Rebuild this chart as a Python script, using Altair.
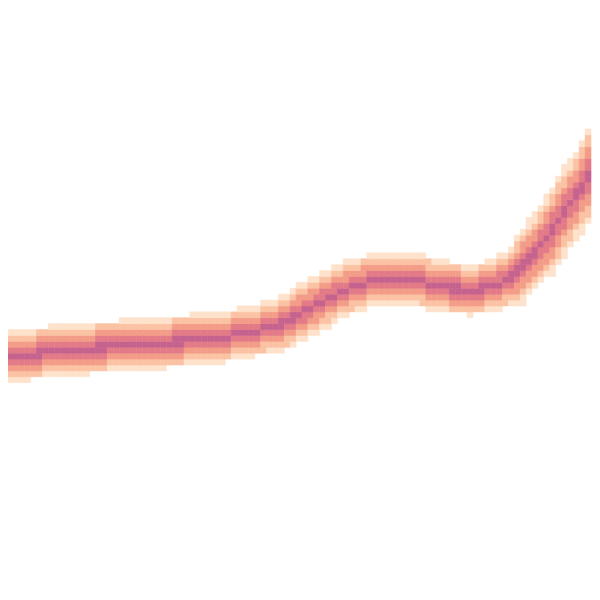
import altair as alt
import pandas as pd
import math

# centerline value of the band for each of the 100 time bins (row units, 0..100)
center = [
    40.1, 40.3, 40.5, 40.7, 40.8, 40.9, 41.0, 41.1, 41.2, 41.3,
    41.4, 41.5, 41.6, 41.7, 41.8, 41.9, 42.0, 42.0, 42.1, 42.1,
    42.2, 42.2, 42.3, 42.3, 42.4, 42.6, 42.6, 42.8, 42.9, 43.0,
    43.0, 43.1, 43.3, 43.3, 43.5, 43.6, 43.7, 43.8, 43.9, 44.1,
    44.3, 44.5, 44.7, 44.9, 45.1, 45.4, 45.6, 46.0, 46.4, 47.0,
    47.6, 48.2, 48.7, 49.3, 49.8, 50.4, 50.9, 51.4, 51.8, 52.3,
    52.7, 52.9, 53.3, 53.5, 53.6, 53.7, 53.8, 53.7, 53.7, 53.6,
    53.4, 53.1, 52.9, 52.6, 52.4, 52.2, 52.0, 52.0, 51.9, 51.8,
    51.9, 52.0, 52.2, 52.4, 52.9, 53.4, 53.9, 54.8, 55.9, 57.1,
    58.2, 59.3, 60.6, 61.9, 63.5, 65.0, 66.4, 67.8, 69.3, 70.9,
]

# density level by distance (in bins) from the centerline
profile = [1.0, 0.75, 0.5, 0.3, 0.15]
levels = [0.15, 0.3, 0.5, 0.75, 1.0]
colors = ["#fee2cb", "#fbc2a4", "#f39c88", "#e27b87", "#c6628e"]

rows = []
n = len(center)
for t, v in enumerate(center):
    a = center[max(t - 1, 0)]
    b = center[min(t + 1, n - 1)]
    slope = (b - a) / (min(t + 1, n - 1) - max(t - 1, 0))
    c = math.cos(math.atan(slope))
    lo = int(v - 5.0 / c) - 1
    hi = int(v + 5.0 / c) + 1
    for r in range(lo, hi + 1):
        d = abs(r + 0.5 - v) * c
        if d <= 4.3:
            k = min(int(round(d)), 4)
            rows.append({"t": t, "t2": t + 1, "r": r, "r2": r + 1, "density": profile[k]})

df = pd.DataFrame(rows)

cscale = alt.Scale(domain=levels, range=colors)

chart = alt.Chart(df).mark_rect(strokeWidth=0.6).encode(
    x=alt.X("t:Q", scale=alt.Scale(domain=[0, 100], nice=False, zero=False), axis=None),
    x2="t2:Q",
    y=alt.Y("r:Q", scale=alt.Scale(domain=[0, 100], nice=False, zero=False), axis=None),
    y2="r2:Q",
    color=alt.Color("density:Q", scale=cscale, legend=None),
    stroke=alt.Stroke("density:Q", scale=cscale, legend=None),
).properties(
    width=600,
    height=600,
    padding={"left": -8, "top": -8, "right": 0, "bottom": 0},
).configure_view(stroke=None)

chart.save("out.html", embed_options={"renderer": "svg", "actions": False})
